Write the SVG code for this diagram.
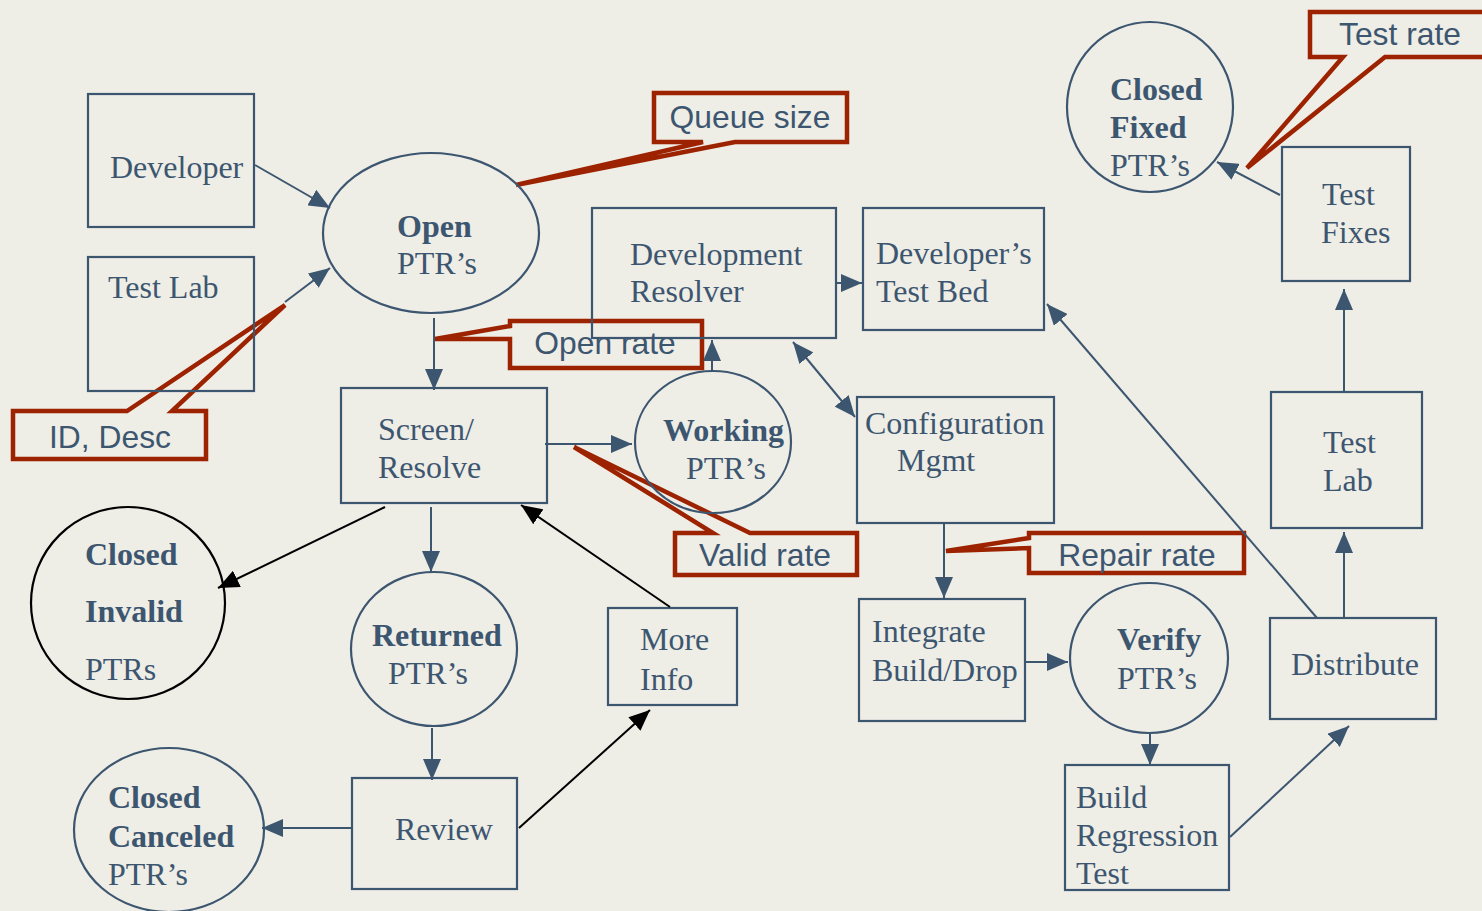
<svg xmlns="http://www.w3.org/2000/svg" width="1482" height="911" viewBox="0 0 1482 911">
  <style>
    .box { fill: none; stroke: #3d5670; stroke-width: 2.2; }
    .ring { fill: none; stroke: #3d5670; stroke-width: 2.2; }
    .ring-dark { fill: none; stroke: #000; stroke-width: 2.2; }
    .t { font-family: "Liberation Serif", "Times New Roman", serif; font-size: 32px; fill: #3d5670; }
    .b { font-weight: bold; }
    .ct { font-family: "Liberation Sans", Arial, sans-serif; font-size: 31.8px; fill: #3d5670; text-anchor: middle; }
    .call { fill: none; stroke: #9c2200; stroke-width: 4.5; stroke-linejoin: miter; }
    .flow { fill: none; stroke: #3d5670; stroke-width: 2; marker-end: url(#ah); }
    .flow-k { fill: none; stroke: #000; stroke-width: 2; marker-end: url(#ahk); }
  </style>
  <defs>
    <marker id="ah" markerUnits="userSpaceOnUse" markerWidth="22" markerHeight="18" refX="21" refY="9" orient="auto-start-reverse">
      <path d="M0,0 L21,9 L0,18 Z" fill="#3d5670"/>
    </marker>
    <marker id="ahk" markerUnits="userSpaceOnUse" markerWidth="22" markerHeight="18" refX="21" refY="9" orient="auto">
      <path d="M0,0 L21,9 L0,18 Z" fill="#000"/>
    </marker>
  </defs>

  <rect width="1482" height="911" fill="#eeede6"/>

  <!-- rate / size callouts -->
  <g id="callouts">
    <path class="call" d="M654,93 H847 V142 H735 L516,185 L703,142 H654 Z"/>
    <text class="ct" x="750" y="128">Queue size</text>
    <path class="call" d="M1310,12 H1492 V57 H1385 L1247,168 L1343,57 H1310 Z"/>
    <text class="ct" x="1400" y="45">Test rate</text>
    <path class="call" d="M510,321 H702 V368 H510 V339 L435,339 L510,326 Z"/>
    <text class="ct" x="605" y="354">Open rate</text>
    <path class="call" d="M675,533 H713 L574,447 L750,533 H857 V575 H675 Z"/>
    <text class="ct" x="765" y="566">Valid rate</text>
    <path class="call" d="M1029,533 H1244 V573 H1029 V548 L946,551 L1029,538 Z"/>
    <text class="ct" x="1137" y="566">Repair rate</text>
    <path class="call" d="M13,411 H127 L285,305 L172,411 H206 V459 H13 Z"/>
    <text class="ct" x="110" y="448">ID, Desc</text>
  </g>

  <!-- nodes -->
  <g id="developer">
    <rect class="box" x="88" y="94" width="166" height="133"/>
    <text class="t" x="110" y="178">Developer</text>
  </g>
  <g id="test-lab-source">
    <rect class="box" x="88" y="257" width="166" height="134"/>
    <text class="t" x="108" y="298">Test Lab</text>
  </g>
  <g id="open-ptrs">
    <ellipse class="ring" cx="431" cy="233" rx="108" ry="80"/>
    <text class="t b" x="397" y="237">Open</text>
    <text class="t" x="397" y="274">PTR’s</text>
  </g>
  <g id="development-resolver">
    <rect class="box" x="592" y="208" width="244" height="130"/>
    <text class="t" x="630" y="265">Development</text>
    <text class="t" x="630" y="302">Resolver</text>
  </g>
  <g id="developers-test-bed">
    <rect class="box" x="863" y="208" width="181" height="122"/>
    <text class="t" x="876" y="264">Developer’s</text>
    <text class="t" x="876" y="302">Test Bed</text>
  </g>
  <g id="closed-fixed">
    <ellipse class="ring" cx="1150" cy="107" rx="83" ry="85"/>
    <text class="t b" x="1110" y="100">Closed</text>
    <text class="t b" x="1110" y="138">Fixed</text>
    <text class="t" x="1110" y="176">PTR’s</text>
  </g>
  <g id="test-fixes">
    <rect class="box" x="1282" y="147" width="128" height="134"/>
    <text class="t" x="1322" y="205">Test</text>
    <text class="t" x="1321" y="243">Fixes</text>
  </g>
  <g id="screen-resolve">
    <rect class="box" x="341" y="388" width="206" height="115"/>
    <text class="t" x="378" y="440">Screen/</text>
    <text class="t" x="378" y="478">Resolve</text>
  </g>
  <g id="working-ptrs">
    <ellipse class="ring" cx="713" cy="442" rx="78" ry="71"/>
    <text class="t b" x="663" y="441">Working</text>
    <text class="t" x="686" y="479">PTR’s</text>
  </g>
  <g id="configuration-mgmt">
    <rect class="box" x="857" y="397" width="197" height="126"/>
    <text class="t" x="865" y="434">Configuration</text>
    <text class="t" x="897" y="471">Mgmt</text>
  </g>
  <g id="test-lab">
    <rect class="box" x="1271" y="392" width="151" height="136"/>
    <text class="t" x="1323" y="453">Test</text>
    <text class="t" x="1323" y="491">Lab</text>
  </g>
  <g id="closed-invalid">
    <ellipse class="ring-dark" cx="128" cy="603" rx="97" ry="96"/>
    <text class="t b" x="85" y="565">Closed</text>
    <text class="t b" x="85" y="622">Invalid</text>
    <text class="t" x="85" y="680">PTRs</text>
  </g>
  <g id="returned-ptrs">
    <ellipse class="ring" cx="434" cy="649" rx="83" ry="77"/>
    <text class="t b" x="372" y="646">Returned</text>
    <text class="t" x="388" y="684">PTR’s</text>
  </g>
  <g id="more-info">
    <rect class="box" x="608" y="608" width="129" height="97"/>
    <text class="t" x="640" y="650">More</text>
    <text class="t" x="640" y="690">Info</text>
  </g>
  <g id="integrate-build">
    <rect class="box" x="859" y="599" width="166" height="122"/>
    <text class="t" x="872" y="642">Integrate</text>
    <text class="t" x="872" y="681">Build/Drop</text>
  </g>
  <g id="verify-ptrs">
    <ellipse class="ring" cx="1149" cy="658" rx="79" ry="75"/>
    <text class="t b" x="1117" y="650">Verify</text>
    <text class="t" x="1117" y="689">PTR’s</text>
  </g>
  <g id="distribute">
    <rect class="box" x="1270" y="618" width="166" height="101"/>
    <text class="t" x="1291" y="675">Distribute</text>
  </g>
  <g id="closed-canceled">
    <ellipse class="ring" cx="169" cy="830" rx="95" ry="82"/>
    <text class="t b" x="108" y="808">Closed</text>
    <text class="t b" x="108" y="847">Canceled</text>
    <text class="t" x="108" y="885">PTR’s</text>
  </g>
  <g id="review">
    <rect class="box" x="352" y="778" width="165" height="111"/>
    <text class="t" x="395" y="840">Review</text>
  </g>
  <g id="build-regression">
    <rect class="box" x="1065" y="765" width="164" height="125"/>
    <text class="t" x="1076" y="808">Build</text>
    <text class="t" x="1076" y="846">Regression</text>
    <text class="t" x="1076" y="884">Test</text>
  </g>

  <!-- connectors -->
  <g id="connectors">
    <path class="flow" d="M255,165 L330,208"/>
    <path class="flow" d="M285,302 L330,268"/>
    <path class="flow" d="M434,318 V390"/>
    <path class="flow" d="M545,444 H632"/>
    <path class="flow" d="M712,371 V340"/>
    <path class="flow" d="M836,283 H862"/>
    <path class="flow" d="M793,342 L855,417" marker-start="url(#ah)"/>
    <path class="flow" d="M1317,618 L1047,304"/>
    <path class="flow" d="M1280,195 L1217,162"/>
    <path class="flow" d="M1344,391 V289"/>
    <path class="flow" d="M1344,618 V532"/>
    <path class="flow" d="M944,523 V598"/>
    <path class="flow" d="M1025,662 H1068"/>
    <path class="flow" d="M1150,734 V765"/>
    <path class="flow" d="M1230,837 L1349,726"/>
    <path class="flow" d="M431,507 V572"/>
    <path class="flow" d="M432,728 V780"/>
    <path class="flow" d="M352,828 H262"/>
    <path class="flow-k" d="M385,507 L218,588"/>
    <path class="flow-k" d="M519,828 L650,710"/>
    <path class="flow-k" d="M670,607 L521,505"/>
  </g>
</svg>
